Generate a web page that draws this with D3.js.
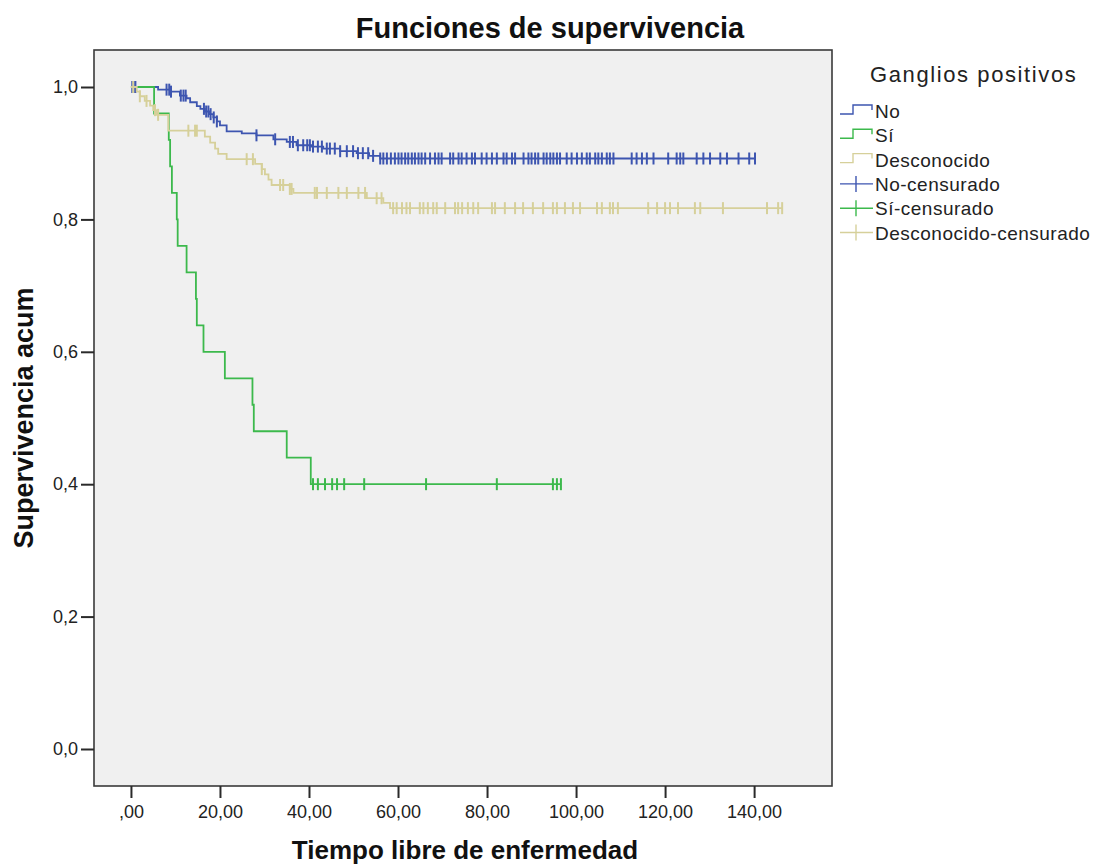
<!DOCTYPE html>
<html lang="es">
<head>
<meta charset="UTF-8">
<title>Funciones de supervivencia</title>
<script src="https://cdnjs.cloudflare.com/ajax/libs/d3/7.8.5/d3.min.js"></script>
<style>
  body { margin: 0; background: #fff; }
  text { font-family: "Liberation Sans", Arial, sans-serif; }
</style>
</head>
<body>
<div id="chart"></div>
<script>
// Grupos
var groups = ["No", "Sí", "Desconocido"];

// Momentos de evento y supervivencia acumulada tras cada evento
var noTimes = [6.1, 8.8, 11.0, 12.5, 13.3, 14.8, 15.6, 16.6, 17.6, 18.5, 19.3, 20.0, 21.5, 24.9, 28.2, 32.0, 35.0, 37.2, 40.5, 43.2, 47.0, 50.7, 53.5, 56.0];
var noSurv  = [0.996, 0.993, 0.987, 0.983, 0.977, 0.971, 0.967, 0.963, 0.959, 0.954, 0.948, 0.942, 0.933, 0.930, 0.927, 0.921, 0.917, 0.912, 0.910, 0.907, 0.903, 0.900, 0.896, 0.892];

var siTimes = [5.2, 8.5, 8.8, 9.2, 10.3, 10.5, 12.5, 14.6, 14.8, 16.3, 21.1, 27.3, 27.6, 35.0, 40.4];
var siSurv  = [0.96, 0.92, 0.88, 0.84, 0.80, 0.76, 0.72, 0.68, 0.64, 0.60, 0.56, 0.52, 0.48, 0.44, 0.40];

var desTimes = [1.3, 2.0, 3.1, 4.3, 5.0, 5.8, 8.4, 16.6, 17.8, 18.9, 19.6, 21.5, 27.9, 29.4, 30.1, 30.9, 31.6, 35.7, 36.5, 53.0, 56.7, 58.2];
var desSurv  = [0.993, 0.986, 0.979, 0.972, 0.965, 0.958, 0.934, 0.925, 0.916, 0.907, 0.899, 0.891, 0.884, 0.876, 0.868, 0.860, 0.852, 0.846, 0.840, 0.832, 0.825, 0.817];

// Casos censurados (tiempos)
var noCensor = [0.3, 0.6, 1.0, 8.0, 8.6, 9.0, 11.2, 11.8, 12.3, 16.4, 16.9, 17.4, 17.9, 18.6, 19.3, 28.2, 32.4,
  35.7, 36.4, 37.5, 38.7, 39.6, 40.2, 40.9, 42.0, 42.9, 44.0, 44.7, 45.8, 47.0, 48.5, 49.9, 51.0, 52.1, 53.3, 54.4,
  56.0, 56.7, 57.5, 58.4, 59.3, 60.1, 60.8, 61.6, 62.3, 63.1, 63.8, 64.6, 65.3, 66.1, 67.2, 68.3, 69.1, 69.8, 71.7,
  72.4, 73.6, 74.3, 75.4, 76.6, 77.3, 78.8, 79.9, 81.1, 82.2, 83.7, 84.4, 85.6, 86.3, 88.2, 89.3, 90.0, 90.8, 91.5,
  92.7, 93.4, 94.2, 94.9, 95.7, 96.4, 97.9, 99.0, 100.2, 101.3, 102.4, 103.1, 104.3, 105.0, 105.8, 106.9, 107.6,
  108.4, 112.5, 113.6, 114.8, 115.9, 117.4, 120.7, 122.6, 123.4, 124.1, 127.1, 128.6, 130.1, 132.4, 133.9, 136.5,
  138.9, 140.2];
var siCensor = [40.9, 42.0, 43.6, 45.2, 46.3, 47.9, 52.4, 66.3, 82.2, 94.8, 95.7, 96.6];
var desCensor = [0.5, 2.0, 3.5, 5.4, 6.1, 12.9, 14.4, 14.8, 26.0, 27.4, 29.4, 33.5, 34.2, 35.7, 36.1, 41.3, 41.8,
  44.0, 46.6, 48.5, 51.1, 52.6, 55.2, 56.3, 58.9, 59.7, 60.9, 61.9, 62.7, 64.9, 65.7, 66.7, 67.9, 68.7, 70.6, 72.8,
  73.5, 74.4, 75.7, 76.9, 78.0, 81.1, 81.8, 84.0, 86.3, 88.1, 90.3, 92.6, 94.8, 95.7, 97.5, 99.3, 100.9, 104.7,
  105.8, 107.6, 108.3, 109.4, 116.2, 118.2, 120.0, 121.1, 122.9, 126.7, 127.9, 133.0, 142.9, 145.4, 146.3];

var xTicks = [0, 20, 40, 60, 80, 100, 120, 140];
var yTicks = [0, 0.2, 0.4, 0.6, 0.8, 1.0];

var colors = ["#3d55b0", "#3cb94c", "#d6d09a"];

var W = 1093, H = 865;
var plotLeft = 94, plotRight = 832, plotTop = 50, plotBottom = 786;

var svg = d3.select("#chart").append("svg")
  .attr("width", W)
  .attr("height", H);

var x = d3.scaleLinear().domain([-8.3, 157.5]).range([plotLeft, plotRight]);
var y = d3.scaleLinear().domain([-0.0559, 1.0559]).range([plotBottom, plotTop]);

// plot area
svg.append("rect")
  .attr("x", plotLeft).attr("y", plotTop)
  .attr("width", plotRight - plotLeft).attr("height", plotBottom - plotTop)
  .attr("fill", "#f0f0f0")
  .attr("stroke", "#3a3a3a")
  .attr("stroke-width", 1.6);

// axes
var fmtX = function(v) { return v === 0 ? ",00" : v.toFixed(2).replace(".", ","); };
var fmtY = function(v) { return v.toFixed(1).replace(".", ","); };

var xAxis = svg.append("g")
  .attr("transform", "translate(0," + plotBottom + ")")
  .call(d3.axisBottom(x).tickValues(xTicks).tickFormat(fmtX).tickSize(12).tickSizeOuter(0).tickPadding(7));
var yAxis = svg.append("g")
  .attr("transform", "translate(" + plotLeft + ",0)")
  .call(d3.axisLeft(y).tickValues(yTicks).tickFormat(fmtY).tickSize(13).tickSizeOuter(0).tickPadding(3));

[xAxis, yAxis].forEach(function(a) {
  a.select(".domain").remove();
  a.selectAll(".tick line").attr("stroke", "#2a2a2a").attr("stroke-width", 2);
  a.selectAll(".tick text")
    .attr("fill", "#222")
    .style("font-size", "18px")
    .style("font-family", "'Liberation Sans', Arial, sans-serif");
});

// curves
var series = [
  { times: noTimes, surv: noSurv, censor: noCensor },
  { times: siTimes, surv: siSurv, censor: siCensor },
  { times: desTimes, surv: desSurv, censor: desCensor }
];

function survAt(s, t) {
  var v = 1;
  for (var i = 0; i < s.times.length; i++) {
    if (s.times[i] <= t) v = s.surv[i];
  }
  return v;
}

var line = d3.line()
  .x(function(d) { return x(d[0]); })
  .y(function(d) { return y(d[1]); })
  .curve(d3.curveStepAfter);

series.forEach(function(s, i) {
  var pts = [[0, 1]];
  s.times.forEach(function(t, j) { pts.push([t, s.surv[j]]); });
  var tEnd = d3.max(s.censor.concat(s.times));
  pts.push([tEnd, survAt(s, tEnd)]);

  var g = svg.append("g");
  g.append("path")
    .datum(pts)
    .attr("d", line)
    .attr("fill", "none")
    .attr("stroke", colors[i])
    .attr("stroke-width", 1.8);

  g.selectAll("line.cens")
    .data(s.censor)
    .enter().append("line")
    .attr("class", "cens")
    .attr("x1", function(t) { return x(t); })
    .attr("x2", function(t) { return x(t); })
    .attr("y1", function(t) { return y(survAt(s, t)) - 6; })
    .attr("y2", function(t) { return y(survAt(s, t)) + 6; })
    .attr("stroke", colors[i])
    .attr("stroke-width", 2);
});

// titles
svg.append("text")
  .attr("x", 550).attr("y", 38)
  .attr("text-anchor", "middle")
  .style("font-size", "29px").style("font-weight", "bold")
  .attr("fill", "#111")
  .text("Funciones de supervivencia");

svg.append("text")
  .attr("x", 465).attr("y", 859)
  .attr("text-anchor", "middle")
  .style("font-size", "26px").style("font-weight", "bold")
  .attr("fill", "#111")
  .text("Tiempo libre de enfermedad");

svg.append("text")
  .attr("transform", "translate(33,418) rotate(-90)")
  .attr("text-anchor", "middle")
  .style("font-size", "27px").style("font-weight", "bold")
  .attr("fill", "#111")
  .text("Supervivencia acum");

// legend
var legend = svg.append("g");
legend.append("text")
  .attr("x", 870).attr("y", 82)
  .style("font-size", "22px")
  .style("letter-spacing", "1.6px")
  .attr("fill", "#222")
  .text("Ganglios positivos");

var legendLabels = groups.concat(groups.map(function(g) { return g + "-censurado"; }));
legendLabels.forEach(function(lab, i) {
  var cy = 111 + i * 24.3;
  var c = colors[i % 3];
  if (i < 3) {
    legend.append("path")
      .attr("d", "M840," + (cy + 3) + "H853V" + (cy - 6) + "H872V" + (cy - 1))
      .attr("fill", "none").attr("stroke", c).attr("stroke-width", 1.4);
  } else {
    legend.append("line")
      .attr("x1", 840).attr("x2", 873).attr("y1", cy).attr("y2", cy)
      .attr("stroke", c).attr("stroke-width", 1.4);
    legend.append("line")
      .attr("x1", 856).attr("x2", 856).attr("y1", cy - 8).attr("y2", cy + 8)
      .attr("stroke", c).attr("stroke-width", 1.4);
  }
  legend.append("text")
    .attr("x", 875).attr("y", cy + 7)
    .style("font-size", "19px")
    .style("letter-spacing", "0.5px")
    .attr("fill", "#222")
    .text(lab);
});
</script>
</body>
</html>
